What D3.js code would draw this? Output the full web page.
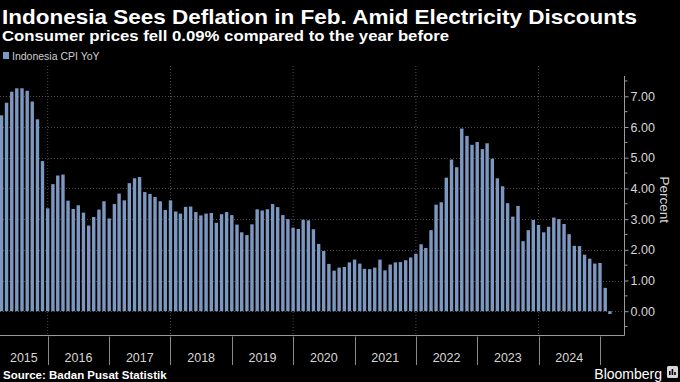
<!DOCTYPE html>
<html>
<head>
<meta charset="utf-8">
<script src="https://cdn.jsdelivr.net/npm/d3@7"></script>
<style>
  html, body { margin: 0; padding: 0; background: #000; }
  svg { display: block; }
  text { font-family: "Liberation Sans", Arial, sans-serif; }
</style>
</head>
<body>
<svg id="chart" width="680" height="382"></svg>
<script>
// ---------------- DATA ----------------
const title = "Indonesia Sees Deflation in Feb. Amid Electricity Discounts";
const subtitle = "Consumer prices fell 0.09% compared to the year before";
const seriesName = "Indonesia CPI YoY";
const source = "Source: Badan Pusat Statistik";
const firstMonth = "2015-03"; // first visible monthly bar
const cpiYoY = [
  // 2015 (Mar-Dec)
  6.38, 6.79, 7.15, 7.26, 7.26, 7.18, 6.83, 6.25, 4.89, 3.35,
  // 2016
  4.14, 4.42, 4.45, 3.60, 3.33, 3.45, 3.21, 2.79, 3.07, 3.31, 3.58, 3.02,
  // 2017
  3.49, 3.83, 3.61, 4.17, 4.33, 4.37, 3.88, 3.82, 3.72, 3.58, 3.30, 3.61,
  // 2018
  3.25, 3.18, 3.40, 3.41, 3.23, 3.12, 3.18, 3.20, 2.88, 3.16, 3.23, 3.13,
  // 2019
  2.82, 2.57, 2.48, 2.83, 3.32, 3.28, 3.32, 3.49, 3.39, 3.13, 3.00, 2.72,
  // 2020
  2.68, 2.98, 2.96, 2.67, 2.19, 1.96, 1.54, 1.32, 1.42, 1.44, 1.59, 1.68,
  // 2021
  1.55, 1.38, 1.37, 1.42, 1.68, 1.33, 1.52, 1.59, 1.60, 1.66, 1.75, 1.87,
  // 2022
  2.18, 2.06, 2.64, 3.47, 3.55, 4.35, 4.94, 4.69, 5.95, 5.71, 5.42, 5.51,
  // 2023
  5.28, 5.47, 4.97, 4.33, 4.07, 3.52, 3.08, 3.43, 2.28, 2.64, 2.97, 2.81,
  // 2024
  2.57, 2.75, 3.05, 3.00, 2.84, 2.51, 2.13, 2.12, 1.84, 1.71, 1.55, 1.57,
  // 2025 (Jan-Feb)
  0.76, -0.09
];
const yearLabels = ["2015","2016","2017","2018","2019","2020","2021","2022","2023","2024"];
const yTickValues = [0, 1, 2, 3, 4, 5, 6, 7];
const yMinorValues = [-0.5, 0.5, 1.5, 2.5, 3.5, 4.5, 5.5, 6.5, 7.5];
const gridYears = ["2016","2018","2020","2022","2024"];
const yAxisTitle = "Percent";

// ---------------- LAYOUT ----------------
const W = 680, H = 382;
const plotLeft = 0, plotRight = 624.5;
const plotTop = 66, plotBottom = 335.5;
const axisTop = 76;
const barColor = "#7d98c0";

const svg = d3.select("#chart");
svg.append("rect").attr("width", W).attr("height", H).attr("fill", "#000");

const parse = d3.timeParse("%Y-%m");
const start = parse(firstMonth);
const data = cpiYoY.map((v, i) => ({
  // monthly observation is placed at month end (= start of next month)
  date: d3.timeMonth.offset(start, i + 1),
  value: v
}));

const x = d3.scaleTime()
  .domain([new Date(2016, 0, 1), new Date(2025, 0, 1)])
  .range([47.7, 600]);
const y = d3.scaleLinear().domain([0, 7]).range([311.2, 96.3]);

// clip for plot area
svg.append("clipPath").attr("id", "clip")
  .append("rect").attr("x", plotLeft).attr("y", plotTop)
  .attr("width", plotRight - plotLeft).attr("height", plotBottom - plotTop);

const grid = svg.append("g").attr("clip-path", "url(#clip)");
// horizontal dotted gridlines
grid.selectAll("line.hg").data(yTickValues).join("line")
  .attr("class", "hg")
  .attr("x1", plotLeft).attr("x2", plotRight)
  .attr("y1", d => Math.round(y(d)) + 0.5).attr("y2", d => Math.round(y(d)) + 0.5)
  .attr("stroke", "#4a4a4a").attr("stroke-width", 1).attr("stroke-dasharray", "1,2");
// vertical dotted gridlines every two years
grid.selectAll("line.vg").data(gridYears).join("line")
  .attr("class", "vg")
  .attr("x1", d => x(new Date(+d, 0, 1))).attr("x2", d => x(new Date(+d, 0, 1)))
  .attr("y1", plotTop).attr("y2", plotBottom)
  .attr("stroke", "#4a4a4a").attr("stroke-width", 1).attr("stroke-dasharray", "1,2");

// bars
const bw = 3.4;
grid.selectAll("rect.bar").data(data).join("rect")
  .attr("class", "bar")
  .attr("x", d => x(d.date) - bw / 2)
  .attr("width", bw)
  .attr("y", d => Math.min(y(d.value), y(0)))
  .attr("height", d => Math.abs(y(d.value) - y(0)))
  .attr("fill", barColor);

// bottom frame line
svg.append("line")
  .attr("x1", plotLeft).attr("x2", plotRight)
  .attr("y1", plotBottom).attr("y2", plotBottom)
  .attr("stroke", "#9a9a9a").attr("stroke-width", 1);

// right y axis
const yAxis = d3.axisRight(y).tickValues(yTickValues)
  .tickFormat(d3.format(".2f")).tickSize(4).tickPadding(2);
const gy = svg.append("g").attr("transform", `translate(${plotRight},0)`).call(yAxis);
gy.select(".domain").remove();
gy.selectAll(".tick line").attr("stroke", "#9a9a9a");
gy.selectAll(".tick text").attr("fill", "#d6d6d6")
  .style("font-size", "12.5px").style("font-family", "'Liberation Sans', Arial, sans-serif");
gy.append("line").attr("x1", 0).attr("x2", 0)
  .attr("y1", axisTop).attr("y2", plotBottom)
  .attr("stroke", "#9a9a9a");
gy.selectAll("line.minor").data(yMinorValues).join("line")
  .attr("class", "minor")
  .attr("x1", 0).attr("x2", 3)
  .attr("y1", d => y(d)).attr("y2", d => y(d))
  .attr("stroke", "#9a9a9a");

// axis title
svg.append("text")
  .attr("transform", `translate(660, ${(axisTop + plotBottom) / 2 - 6}) rotate(90)`)
  .attr("text-anchor", "middle")
  .attr("fill", "#d6d6d6")
  .style("font-size", "13.5px")
  .text(yAxisTitle);

// x axis: year separators and labels
const yearStarts = yearLabels.map(s => new Date(+s, 0, 1)).concat([new Date(2025, 0, 1)]);
svg.selectAll("line.sep").data(yearStarts.slice(1)).join("line")
  .attr("class", "sep")
  .attr("x1", d => Math.round(x(d)) + 0.5).attr("x2", d => Math.round(x(d)) + 0.5)
  .attr("y1", plotBottom + 1).attr("y2", 365)
  .attr("stroke", "#8a8a8a");
svg.selectAll("text.year").data(yearLabels).join("text")
  .attr("class", "year")
  .attr("x", d => {
    const a = Math.max(plotLeft, x(new Date(+d, 0, 1)));
    const b = x(new Date(+d + 1, 0, 1));
    return (a + b) / 2;
  })
  .attr("y", 362)
  .attr("text-anchor", "middle")
  .attr("fill", "#d6d6d6")
  .style("font-size", "12.5px")
  .text(d => d);

// titles
function fitText(sel, target) {
  const w = sel.node().getComputedTextLength();
  sel.attr("textLength", target).attr("lengthAdjust", "spacingAndGlyphs");
}
const t1 = svg.append("text").attr("x", 2).attr("y", 24)
  .attr("fill", "#ffffff").style("font-size", "21px").style("font-weight", "bold")
  .text(title);
fitText(t1, 635);
const t2 = svg.append("text").attr("x", 2).attr("y", 41)
  .attr("fill", "#ffffff").style("font-size", "15px").style("font-weight", "bold")
  .text(subtitle);
fitText(t2, 447);

// legend
svg.append("rect").attr("x", 3).attr("y", 52).attr("width", 6).attr("height", 7).attr("fill", barColor);
svg.append("text").attr("x", 12).attr("y", 59.5)
  .attr("fill", "#cfcfcf").style("font-size", "10.5px").text(seriesName);

// source
svg.append("text").attr("x", 3).attr("y", 379)
  .attr("fill", "#ffffff").style("font-size", "11.5px").style("font-weight", "bold")
  .text(source);

// Bloomberg mark
svg.append("text").attr("x", 662).attr("y", 379).attr("text-anchor", "end")
  .attr("fill", "#ffffff").style("font-size", "14px").text("Bloomberg");
const icon = svg.append("g").attr("transform", "translate(667,366)");
icon.append("rect").attr("width", 11).attr("height", 12).attr("rx", 1.5).attr("fill", "#d8d8d8");
icon.selectAll("rect.ib").data([4, 6, 3]).join("rect")
  .attr("class", "ib")
  .attr("x", (d, i) => 2 + i * 2.6).attr("y", d => 9 - d)
  .attr("width", 1.6).attr("height", d => d).attr("fill", "#000");
</script>
</body>
</html>
